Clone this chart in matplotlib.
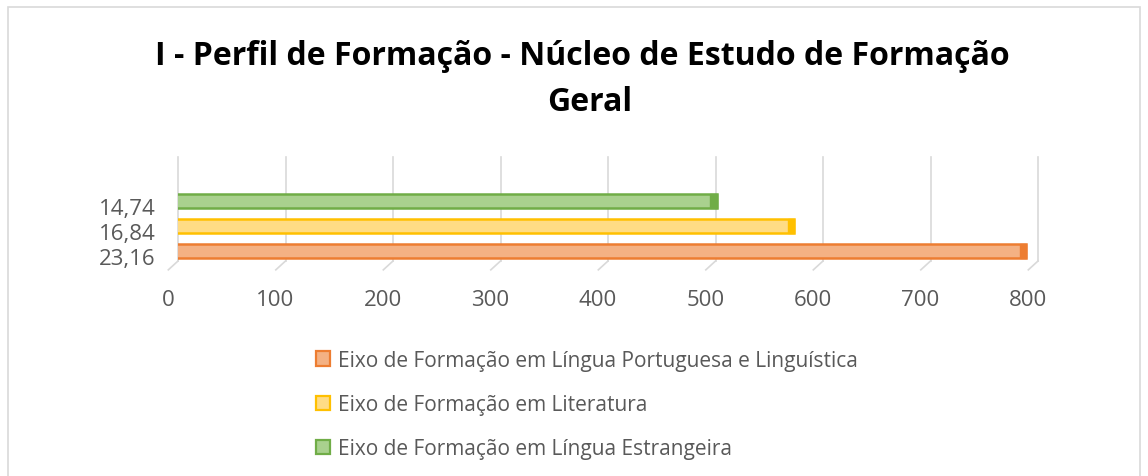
import numpy as np
import matplotlib.pyplot as plt
from matplotlib.patches import Rectangle, Patch
from matplotlib.transforms import blended_transform_factory, ScaledTranslation

plt.rcParams['font.family'] = ['Open Sans', 'DejaVu Sans']

# dados
categorias = ['23,16', '16,84', '14,74']
series = ['Eixo de Formação em Língua Portuguesa e Linguística',
          'Eixo de Formação em Literatura',
          'Eixo de Formação em Língua Estrangeira']
valores = [792, 576, 504]
cores_face = ['#F4B183', '#FFDC85', '#A9D18E']
cores_borda = ['#ED7D31', '#FFC000', '#70AD47']
ticks_x = [0, 100, 200, 300, 400, 500, 600, 700, 800]

W, H = 1148, 477
fig = plt.figure(figsize=(W / 100, H / 100), dpi=100)

# moldura do gráfico
fig.patches.append(Rectangle((8 / W, -0.1), (1140 - 8) / W, 1.1 - 8 / H,
                             transform=fig.transFigure, fill=False,
                             edgecolor='#D9D9D9', linewidth=1.2))

ax = fig.add_axes([178 / W, 1 - 262 / H, (1038 - 178) / W, (262 - 158) / H])
ax.set_xlim(0, 800)
ax.set_ylim(-0.4, 3.76)

def px(dx, dy):
    return ScaledTranslation(dx / 100, dy / 100, fig.dpi_scale_trans)

# barras ficam um pouco à frente da parede do fundo (perspectiva)
frente = ax.transData + px(-3, 0)
y = np.arange(len(categorias))
for i in range(len(categorias)):
    b = ax.barh(y[i], valores[i], height=0.54, color=cores_face[i],
                edgecolor=cores_borda[i], linewidth=1.8, zorder=3)
    # tampa lateral escura (efeito 3D)
    c = ax.barh(y[i], 6, left=valores[i] - 6, height=0.54, color=cores_borda[i],
                edgecolor=cores_borda[i], linewidth=1.0, zorder=4)
    for p in list(b) + list(c):
        p.set_transform(frente)

# linhas de grade com efeito de profundidade
trans = blended_transform_factory(ax.transData, ax.transAxes)
for t in ticks_x:
    ax.plot([t, t], [0, 1], color='#D9D9D9', lw=1.2, transform=trans, zorder=1, clip_on=False)
    ax.plot([t, t - 9], [0, -0.085], color='#D9D9D9', lw=1.2, transform=trans, zorder=1, clip_on=False)

for s in ax.spines.values():
    s.set_visible(False)
ax.set_yticks(y)
ax.set_yticklabels(categorias)
ax.set_xticks(ticks_x)
ax.tick_params(length=0, labelsize=16, labelcolor='#595959')
ax.tick_params(axis='x', pad=20)
ax.tick_params(axis='y', pad=16)
# rótulos deslocados como na perspectiva 3D
for lbl in ax.get_xticklabels():
    lbl.set_transform(lbl.get_transform() + px(-10, 0))
for lbl in ax.get_yticklabels():
    lbl.set_transform(lbl.get_transform() + px(0, -5))

fig.text(582 / W, 1 - 65 / H, 'I - Perfil de Formação - Núcleo de Estudo de Formação',
         ha='center', va='baseline', fontsize=23, fontweight='bold', color='black')
fig.text(590 / W, 1 - 111 / H, 'Geral',
         ha='center', va='baseline', fontsize=23, fontweight='bold', color='black')

handles = [Patch(facecolor=cores_face[i], edgecolor=cores_borda[i], linewidth=1.6)
           for i in range(len(series))]
fig.legend(handles, series, loc='upper left', bbox_to_anchor=(297 / W, 1 - 332 / H),
           frameon=False, fontsize=15, labelcolor='#595959', labelspacing=1.12,
           handlelength=0.7, handleheight=0.7, handletextpad=0.35)

fig.savefig('out.png', dpi=100)
